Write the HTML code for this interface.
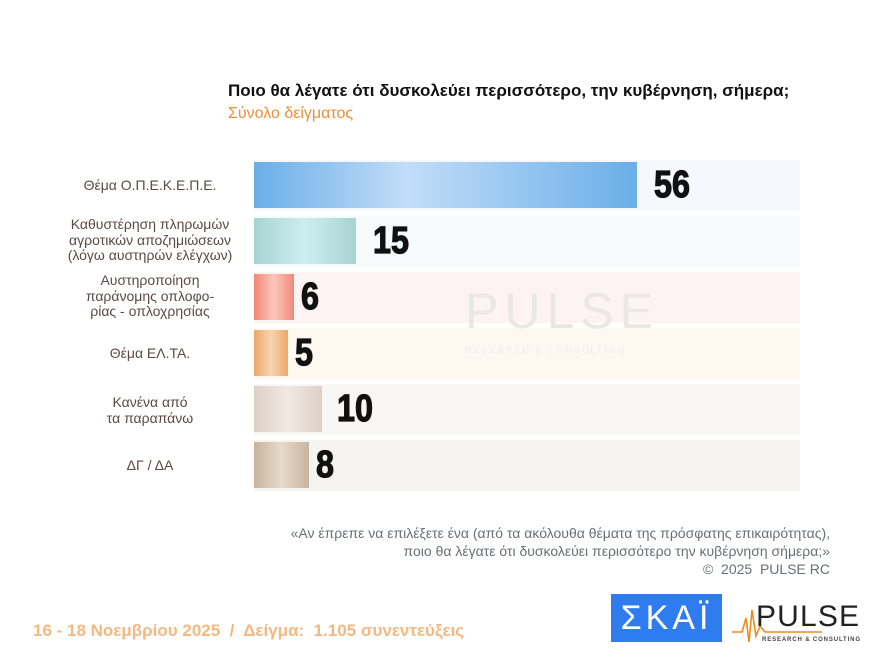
<!DOCTYPE html><html><head><meta charset="utf-8"><style>
body{margin:0;width:880px;height:660px;background:#fff;font-family:"Liberation Sans","DejaVu Sans",sans-serif;position:relative;overflow:hidden}
.a{position:absolute}
.row{position:absolute;left:254px;width:546px;height:51px}
.bar{position:absolute;left:254px;height:46px}
.val{position:absolute;font-family:"Liberation Sans Narrow","Liberation Sans",sans-serif;font-weight:bold;font-size:38px;color:#111;transform:scaleX(0.85);transform-origin:left;-webkit-text-stroke:1.2px #111}
.lab{position:absolute;left:30px;width:240px;text-align:center;font-size:14px;line-height:15.5px;color:#5a4a42}
</style></head><body>
<div class="a" style="left:228px;top:81px;font-size:17px;font-weight:bold;color:#111">Ποιο θα λέγατε ότι δυσκολεύει περισσότερο, την κυβέρνηση, σήμερα;</div>
<div class="a" style="left:228px;top:105px;font-size:16px;color:#e8903a">Σύνολο δείγματος</div>

<div class="row" style="top:160px;background:#f5f9fd"></div>
<div class="row" style="top:216px;background:#f7fafa"></div>
<div class="row" style="top:272px;background:#fdf3f2"></div>
<div class="row" style="top:328px;background:#fdf8f0"></div>
<div class="row" style="top:384px;background:#f8f7f6"></div>
<div class="row" style="top:440px;background:#f6f4f2"></div>

<div class="a" style="left:465px;top:282px;font-size:50px;color:#ebe7e7;letter-spacing:6px">PULSE</div>
<div class="a" style="left:465px;top:345px;font-size:9px;color:#f2ece8;letter-spacing:2px">RESEARCH &amp; CONSULTING</div>

<div class="bar" style="top:162px;width:383px;background:linear-gradient(90deg,#6aaee8,#c2ddf8 40%,#6aaee8)"></div>
<div class="bar" style="top:218px;width:102px;background:linear-gradient(90deg,#a8d3d3,#cdeeee 50%,#a8d3d3)"></div>
<div class="bar" style="top:274px;width:40px;background:linear-gradient(90deg,#f08878,#fcc6bc 50%,#f08878)"></div>
<div class="bar" style="top:330px;width:34px;background:linear-gradient(90deg,#eba868,#f8d5b0 50%,#eba868)"></div>
<div class="bar" style="top:386px;width:68px;background:linear-gradient(90deg,#ddd0c6,#f0e8e2 50%,#ddd0c6)"></div>
<div class="bar" style="top:442px;width:55px;background:linear-gradient(90deg,#c8b49e,#e6dacd 50%,#c8b49e)"></div>

<div class="val" style="left:654px;top:164px">56</div>
<div class="val" style="left:373px;top:220px">15</div>
<div class="val" style="left:301px;top:276px">6</div>
<div class="val" style="left:295px;top:332px">5</div>
<div class="val" style="left:337px;top:388px">10</div>
<div class="val" style="left:316px;top:444px">8</div>

<div class="lab" style="top:178px">Θέμα Ο.Π.Ε.Κ.Ε.Π.Ε.</div>
<div class="lab" style="top:217px">Καθυστέρηση πληρωμών<br>αγροτικών αποζημιώσεων<br>(λόγω αυστηρών ελέγχων)</div>
<div class="lab" style="top:273px">Αυστηροποίηση<br>παράνομης οπλοφο-<br>ρίας - οπλοχρησίας</div>
<div class="lab" style="top:346px">Θέμα ΕΛ.ΤΑ.</div>
<div class="lab" style="top:395px">Κανένα από<br>τα παραπάνω</div>
<div class="lab" style="top:458px">ΔΓ / ΔΑ</div>

<div class="a" style="right:50px;top:524px;text-align:right;font-size:14px;line-height:18px;color:#6a6e78;white-space:nowrap">«Αν έπρεπε να επιλέξετε ένα (από τα ακόλουθα θέματα της πρόσφατης επικαιρότητας),<br>ποιο θα λέγατε ότι δυσκολεύει περισσότερο την κυβέρνηση σήμερα;»<br>©&nbsp; 2025&nbsp; PULSE RC</div>

<div class="a" style="left:33px;top:621px;font-size:17px;font-weight:bold;color:#f4b880;white-space:nowrap">16 - 18 Νοεμβρίου 2025&nbsp; /&nbsp; Δείγμα:&nbsp; 1.105 συνεντεύξεις</div>

<div class="a" style="left:611px;top:594px;width:111px;height:48px;background:#2f7cf0;color:#fff;font-size:34px;line-height:48px;text-align:center;letter-spacing:4px">ΣΚΑΪ</div>
<svg class="a" style="left:732px;top:596px" width="135" height="48">
<polyline points="0,36 10,36 14,22 17,46 20,14 24,40 28,30 33,36 90,36" fill="none" stroke="#f08a1c" stroke-width="1.6"/>
<text x="24" y="30" font-size="30" font-family="Liberation Sans" fill="#222" letter-spacing="1" textLength="104">PULSE</text>
<text x="30" y="45" font-size="6" font-family="Liberation Sans" font-weight="bold" fill="#444" textLength="98">RESEARCH &amp; CONSULTING</text>
</svg>
</body></html>
